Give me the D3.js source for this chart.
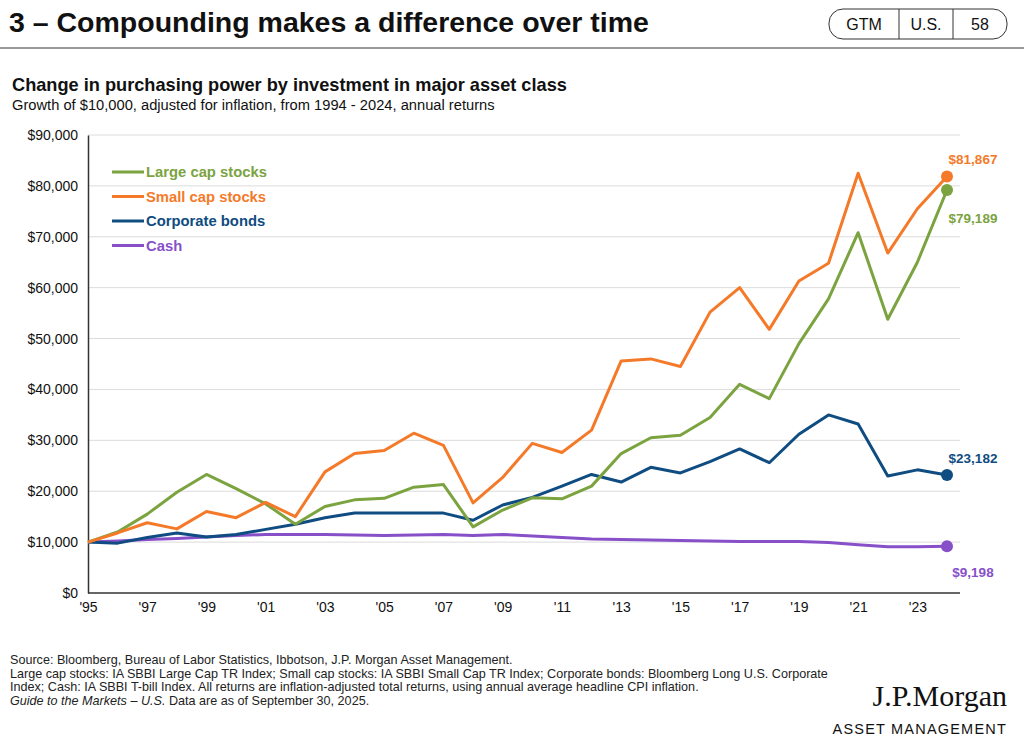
<!DOCTYPE html>
<html>
<head>
<meta charset="utf-8">
<script src="https://cdn.jsdelivr.net/npm/d3@7"></script>
<style>
  body { margin: 0; background: #fff; font-family: "Liberation Sans", Arial, sans-serif; }
</style>
</head>
<body>
<div id="chart"></div>
<script>
// data
var years = d3.range(1995, 2025);
var largeCap = [10000,12000,15500,19800,23300,20500,17500,13500,17000,18300,18600,20800,21300,13000,16300,18700,18500,21000,27400,30500,31000,34500,41000,38200,49000,57800,70800,53800,65000,79189];
var smallCap = [10000,11800,13800,12600,16000,14800,17800,15000,23800,27400,28000,31400,29000,17700,22700,29400,27600,32000,45600,46000,44500,55200,60000,51800,61300,64800,82500,66800,75500,81867];
var corpBonds = [10000,9800,10900,11800,11000,11500,12500,13500,14800,15700,15700,15700,15700,14300,17300,18800,21000,23300,21800,24700,23600,25800,28300,25600,31200,35000,33200,23000,24200,23182];
var cash = [10000,10200,10500,10700,11000,11300,11500,11500,11500,11400,11300,11400,11500,11300,11500,11200,10900,10600,10500,10400,10300,10200,10100,10100,10100,9900,9500,9100,9100,9198];
var seriesNames = ["Large cap stocks","Small cap stocks","Corporate bonds","Cash"];
var seriesColors = ["#7ba33f","#f47a29","#0f4c81","#8750c8"];
var yTicks = d3.range(0, 90001, 10000);
var xTicks = d3.range(1995, 2024, 2);

var width = 1024, height = 746;
var svg = d3.select("#chart").append("svg").attr("width", width).attr("height", height);

// header
svg.append("text").attr("x", 9).attr("y", 32).attr("font-size", 28.5).attr("font-weight", "bold")
  .attr("fill", "#111").text("3 – Compounding makes a difference over time");
svg.append("line").attr("x1", 0).attr("x2", width).attr("y1", 48).attr("y2", 48).attr("stroke", "#333").attr("stroke-width", 1);
svg.append("rect").attr("x", 829).attr("y", 9).attr("width", 178).attr("height", 30).attr("rx", 14)
  .attr("fill", "none").attr("stroke", "#333");
[[899],[953]].forEach(function(d){
  svg.append("line").attr("x1", d[0]).attr("x2", d[0]).attr("y1", 9).attr("y2", 39).attr("stroke", "#333");
});
[["GTM",864],["U.S.",926],["58",980]].forEach(function(d){
  svg.append("text").attr("x", d[1]).attr("y", 30).attr("text-anchor", "middle").attr("font-size", 16)
    .attr("fill", "#111").text(d[0]);
});

svg.append("text").attr("x", 12).attr("y", 91).attr("font-size", 18.2).attr("font-weight", "bold")
  .attr("fill", "#111").text("Change in purchasing power by investment in major asset class");
svg.append("text").attr("x", 12).attr("y", 110).attr("font-size", 14.7)
  .attr("fill", "#111").text("Growth of $10,000, adjusted for inflation, from 1994 - 2024, annual returns");

// scales
var x = d3.scaleLinear().domain([1995, 2024]).range([88, 947]);
var y = d3.scaleLinear().domain([0, 90000]).range([593, 135]);

var g = svg.append("g");
g.selectAll(".grid").data(yTicks.slice(1)).enter().append("line")
  .attr("x1", 88).attr("x2", 960).attr("y1", y).attr("y2", y)
  .attr("stroke", "#dcdcdc").attr("stroke-width", 1);

var yAxis = g.append("g").attr("transform", "translate(88,0)")
  .call(d3.axisLeft(y).tickValues(yTicks).tickSize(0).tickPadding(10).tickFormat(function(d){ return "$" + d3.format(",")(d); }));
yAxis.select(".domain").attr("stroke", "#333").attr("stroke-width", 1.5);
yAxis.selectAll("text").attr("font-size", 14).attr("fill", "#111").attr("font-family", "Liberation Sans, Arial, sans-serif");

var xAxis = g.append("g").attr("transform", "translate(0,593)")
  .call(d3.axisBottom(x).tickValues(xTicks).tickSize(0).tickPadding(9).tickFormat(function(d){ return "'" + String(d).slice(2); }));
xAxis.select(".domain").attr("stroke", "#333").attr("stroke-width", 1.5).attr("d", "M88,0H960");
xAxis.selectAll("text").attr("font-size", 14).attr("fill", "#111").attr("font-family", "Liberation Sans, Arial, sans-serif");

// lines
var allSeries = [largeCap, smallCap, corpBonds, cash];
var line = d3.line().x(function(d, i){ return x(years[i]); }).y(function(d){ return y(d); });
[3, 2, 0, 1].forEach(function(k){
  g.append("path").attr("d", line(allSeries[k])).attr("fill", "none")
    .attr("stroke", seriesColors[k]).attr("stroke-width", 3).attr("stroke-linejoin", "round");
});

// end dots and labels
var labelOffsets = [28, -17, -17, 26];
allSeries.forEach(function(s, k){
  var v = s[s.length - 1];
  g.append("circle").attr("cx", x(2024)).attr("cy", y(v)).attr("r", 6).attr("fill", seriesColors[k]);
  g.append("text").attr("x", x(2024) + 26).attr("y", y(v) + labelOffsets[k] + 5)
    .attr("text-anchor", "middle").attr("font-size", 13.5).attr("font-weight", "bold")
    .attr("fill", seriesColors[k]).text("$" + d3.format(",")(v));
});

// legend
seriesNames.forEach(function(n, k){
  var ly = 172 + k * 24.5;
  g.append("line").attr("x1", 112).attr("x2", 144).attr("y1", ly).attr("y2", ly)
    .attr("stroke", seriesColors[k]).attr("stroke-width", 3);
  g.append("text").attr("x", 146).attr("y", ly + 5).attr("font-size", 14.8).attr("font-weight", "bold")
    .attr("fill", seriesColors[k]).text(n);
});

// footnotes
var notes = [
  "Source: Bloomberg, Bureau of Labor Statistics, Ibbotson, J.P. Morgan Asset Management.",
  "Large cap stocks: IA SBBI Large Cap TR Index; Small cap stocks: IA SBBI Small Cap TR Index; Corporate bonds: Bloomberg Long U.S. Corporate",
  "Index; Cash: IA SBBI T-bill Index. All returns are inflation-adjusted total returns, using annual average headline CPI inflation."
];
notes.forEach(function(t, i){
  svg.append("text").attr("x", 10).attr("y", 664 + i * 13.5).attr("font-size", 12.6).attr("fill", "#222").text(t);
});
var last = svg.append("text").attr("x", 10).attr("y", 704.5).attr("font-size", 12.6).attr("fill", "#222");
last.append("tspan").attr("font-style", "italic").text("Guide to the Markets – U.S.");
last.append("tspan").text(" Data are as of September 30, 2025.");

svg.append("text").attr("x", 1007).attr("y", 706).attr("text-anchor", "end").attr("font-size", 30)
  .attr("font-family", "Liberation Serif, Times New Roman, serif").attr("fill", "#111").text("J.P.Morgan");
svg.append("text").attr("x", 1007).attr("y", 734).attr("text-anchor", "end").attr("font-size", 14.5)
  .attr("letter-spacing", 1.2).attr("fill", "#111").text("ASSET MANAGEMENT");
</script>
</body>
</html>
